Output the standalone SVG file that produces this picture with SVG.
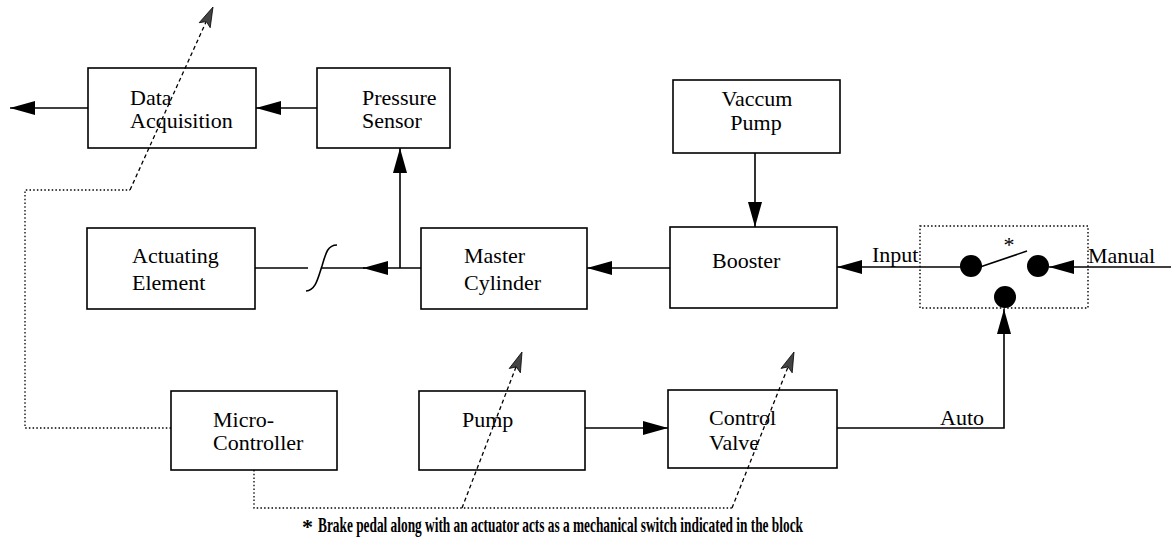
<svg xmlns="http://www.w3.org/2000/svg" width="1171" height="545" viewBox="0 0 1171 545">
<style>
.box{fill:#fff;stroke:#000;stroke-width:1.6}
.t{font-family:"Liberation Serif","Times New Roman",serif;font-size:22px;fill:#000}
.ln{fill:none;stroke:#000;stroke-width:1.6}
.dot{fill:none;stroke:#000;stroke-width:1.3;stroke-dasharray:1.5 2.2}
.dash{fill:none;stroke:#000;stroke-width:1.3;stroke-dasharray:4 3}
.hat{fill:#444;stroke:#000;stroke-width:0.8}
</style>
<defs>
<marker id="arr" viewBox="0 0 25 14" refX="25" refY="7" markerWidth="25" markerHeight="14" markerUnits="userSpaceOnUse" orient="auto">
<path d="M0,0 L25,7 L0,14 z" fill="#000"/>
</marker>
</defs>

<g id="connectors">
<line class="ln" x1="88" y1="108" x2="10" y2="108" marker-end="url(#arr)"/>
<line class="ln" x1="317" y1="108" x2="256" y2="108" marker-end="url(#arr)"/>
<line class="ln" x1="400" y1="268" x2="400" y2="148" marker-end="url(#arr)"/>
<line class="ln" x1="421" y1="268" x2="363" y2="268" marker-end="url(#arr)"/>
<line class="ln" x1="365" y1="268" x2="322" y2="268"/>
<line class="ln" x1="255" y1="268" x2="308" y2="268"/>
<path class="ln" d="M306,291 C316,290 318,278 322,266 C326,252 328,245 337,245"/>
<line class="ln" x1="755" y1="153" x2="755" y2="227" marker-end="url(#arr)"/>
<line class="ln" x1="670" y1="268" x2="587" y2="268" marker-end="url(#arr)"/>
<line class="ln" x1="962" y1="267" x2="837" y2="267" marker-end="url(#arr)"/>
<line class="ln" x1="1171" y1="267" x2="1049" y2="267" marker-end="url(#arr)"/>
<line class="ln" x1="585" y1="428" x2="668" y2="428" marker-end="url(#arr)"/>
<polyline class="ln" points="837,428 1004,428 1004,309" marker-end="url(#arr)"/>
<polyline class="dot" points="171,428 25,428 25,190 130,190"/>
<line class="dash" x1="130" y1="190" x2="206" y2="22"/>
<polygon class="hat" points="213,7 210.2,27.7 206.4,21.6 199.2,22.7"/>
<polyline class="dot" points="254,470 254,508 732,508"/>
<line class="dash" x1="462" y1="508" x2="516" y2="367"/>
<polygon class="hat" points="522,352 520.4,372.8 516.3,366.9 509.2,368.5"/>
<line class="dash" x1="732" y1="508" x2="788" y2="367"/>
<polygon class="hat" points="794,352 792.2,372.8 788.1,366.9 781,368.4"/>
</g>

<g id="data-acquisition">
<rect class="box" x="88" y="68" width="168" height="80" fill-opacity="0"/>
<text class="t" x="130" y="105">Data</text>
<text class="t" x="130" y="128">Acquisition</text>
</g>
<g id="pressure-sensor">
<rect class="box" x="317" y="68" width="133" height="80"/>
<text class="t" x="362" y="105">Pressure</text>
<text class="t" x="362" y="128">Sensor</text>
</g>
<g id="vaccum-pump">
<rect class="box" x="673" y="80" width="167" height="73"/>
<text class="t" x="757" y="106" text-anchor="middle">Vaccum</text>
<text class="t" x="756" y="130" text-anchor="middle">Pump</text>
</g>
<g id="actuating-element">
<rect class="box" x="87" y="228" width="168" height="81"/>
<text class="t" x="132" y="263">Actuating</text>
<text class="t" x="132" y="290">Element</text>
</g>
<g id="master-cylinder">
<rect class="box" x="421" y="228" width="166" height="81"/>
<text class="t" x="464" y="263">Master</text>
<text class="t" x="464" y="290">Cylinder</text>
</g>
<g id="booster">
<rect class="box" x="670" y="227" width="167" height="81"/>
<text class="t" x="712" y="268">Booster</text>
</g>
<g id="switch">
<rect x="920" y="226" width="168" height="82" fill="none" stroke="#000" stroke-width="1.4" stroke-dasharray="1.5 2.2"/>
<circle cx="971" cy="266" r="11" fill="#000"/>
<circle cx="1038" cy="266" r="11" fill="#000"/>
<circle cx="1005" cy="297" r="11" fill="#000"/>
<line class="ln" x1="980" y1="267" x2="1027" y2="251"/>
<text class="t" x="1009" y="252" text-anchor="middle" font-size="18">*</text>
</g>
<g id="micro-controller">
<rect class="box" x="171" y="391" width="166" height="79"/>
<text class="t" x="213" y="427">Micro-</text>
<text class="t" x="213" y="450">Controller</text>
</g>
<g id="pump">
<rect class="box" x="419" y="391" width="166" height="79" fill-opacity="0"/>
<text class="t" x="462" y="427">Pump</text>
</g>
<g id="control-valve">
<rect class="box" x="668" y="390" width="169" height="78" fill-opacity="0"/>
<text class="t" x="709" y="425">Control</text>
<text class="t" x="709" y="450">Valve</text>
</g>
<g id="labels">
<text class="t" x="872" y="262">Input</text>
<text class="t" x="1088" y="263">Manual</text>
<text class="t" x="940" y="425">Auto</text>
<text class="t" x="302" y="534" font-size="18" font-weight="bold">*</text>
<text class="t" x="318" y="532" font-size="14" font-weight="bold" textLength="485" lengthAdjust="spacingAndGlyphs">Brake pedal along with an actuator acts as a mechanical switch indicated in the block</text>
</g>
</svg>
